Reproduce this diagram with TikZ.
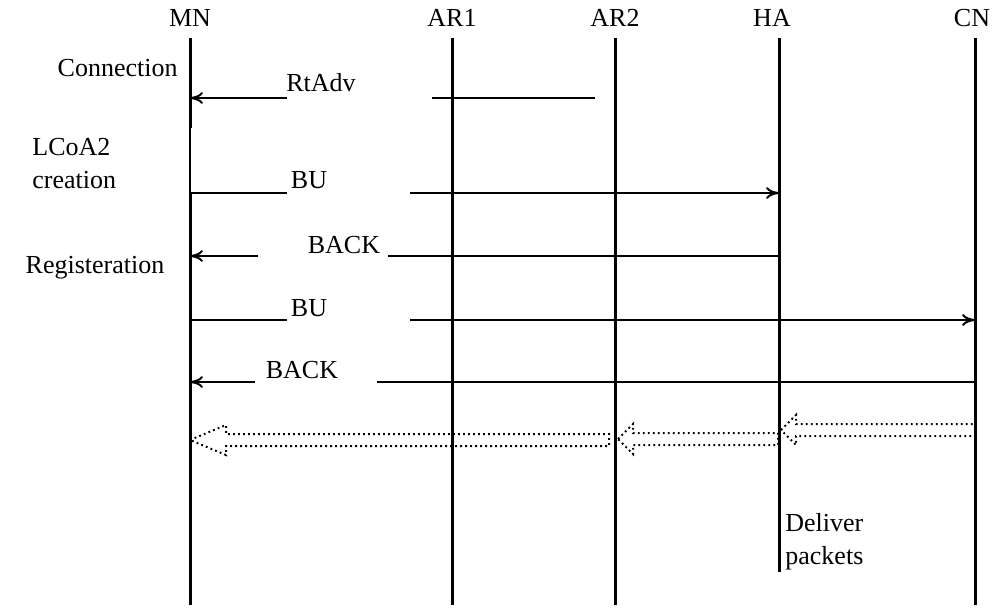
\documentclass[tikz,border=0pt]{standalone}
\usepackage{fontspec}
\setmainfont{Liberation Serif}
\usetikzlibrary{calc,arrows.meta}

\tikzset{
  life/.style={line width=1.5pt},
  msg/.style={line width=1pt, >={To[length=6.5pt,width=6pt]}},
  lbl/.style={font=\fontsize{13}{16.5}\selectfont, inner sep=0pt},
  fat/.style={line width=1pt, dash pattern=on 0.9pt off 1.6pt, line join=miter},
}

% hollow dotted arrow: tip, tail, head length
\newcommand{\fatarrow}[3]{%
  \draw[fat] (#1) -- ($(#1)+(#3,-15)$) -- ($(#1)+(#3,-6)$) -- ($(#2)+(0,-6)$)
    -- ($(#2)+(0,6)$) -- ($(#1)+(#3,6)$) -- ($(#1)+(#3,15)$) -- cycle;}

\begin{document}
\begin{tikzpicture}[x=0.5pt, y=-0.5pt]
\useasboundingbox (0,0) rectangle (992,607);

% Lifelines
\foreach \n/\x/\s/\e in {AR1/452/0/605, AR2/615/0/605, HA/779/-7/572, CN/975/-3/605}{
  \node[lbl, xshift=\s*0.5pt] (\n) at (\x,18) {\n};
  \draw[life] (\x,38) -- (\x,\e);
}
\node[lbl] (MN) at (190,18) {MN};
\draw[life] (MN |- 0,38) -- (MN |- 0,128);
\draw[line width=0.7pt] (MN |- 0,128) -- (MN |- 0,193);
\draw[life] (MN |- 0,193) -- (MN |- 0,605);

% Steps
\node[lbl, anchor=east] (conn) at (178,68) {Connection};
\node[lbl, anchor=west, align=left] (lcoa) at (32,164) {LCoA2\\creation};
\node[lbl] (reg) at (95,268) {Registeration};
\node[lbl, anchor=west, align=left] (deliv) at (785,542) {Deliver\\packets};

% RtAdv
\draw[msg, ->] (287,98) -- (MN |- 0,98);
\draw[msg] (432,98) -- (595,98);
\node[lbl] (rtadv) at (321,83) {RtAdv};

% BU to HA
\draw[msg] (MN |- 0,193) -- (287,193);
\draw[msg, ->] (410,193) -- (779,193);
\node[lbl] (bu1) at (309,180) {BU};

% BACK from HA
\draw[msg, ->] (258,256) -- (MN |- 0,256);
\draw[msg] (388,256) -- (779,256);
\node[lbl] (back1) at (344,245) {BACK};

% BU to CN
\draw[msg] (MN |- 0,320) -- (287,320);
\draw[msg, ->] (410,320) -- (975,320);
\node[lbl] (bu2) at (309,308) {BU};

% BACK from CN
\draw[msg, ->] (255,382) -- (MN |- 0,382);
\draw[msg] (377,382) -- (975,382);
\node[lbl] (back2) at (302,370) {BACK};

% Packets
\coordinate (p1) at (MN |- 0,440);
\coordinate (p1e) at (609,440);
\coordinate (p2) at (618,439);
\coordinate (p2e) at (778,439);
\coordinate (p3) at (781,430);
\coordinate (p3e) at (975,430);
\fatarrow{p1}{p1e}{36}
\fatarrow{p2}{p2e}{15}
\fatarrow{p3}{p3e}{15}

\end{tikzpicture}
\end{document}
